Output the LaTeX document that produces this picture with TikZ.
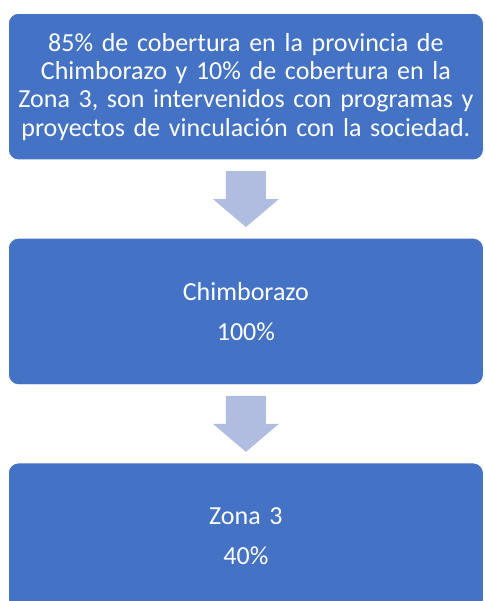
\documentclass[tikz,border=0pt]{standalone}
\usepackage{fontspec}
\setmainfont{Carlito}
\usetikzlibrary{positioning,calc}
\definecolor{boxblue}{HTML}{4472C4}
\definecolor{arrowblue}{HTML}{B0BDE0}
\tikzset{stage/.style={fill=boxblue,draw=white,line width=.8pt,rounded corners=10pt,minimum width=475pt,
 minimum height=146.5pt,text width=470pt,align=center,text=white,font=\fontsize{26}{28.3}\selectfont,inner sep=0pt},
 down/.style={fill=arrowblue}}

\begin{document}
\begin{tikzpicture}[x=1pt,y=-1pt,node distance=77.5pt]
\clip (0,0) rectangle (484,601);
\node[stage,anchor=north west] (cover) at (8,13) {85\% de cobertura en la provincia de\\Chimborazo y 10\% de cobertura en la\\Zona 3, son intervenidos con programas y\\proyectos de vinculación con la sociedad.};
\node[stage,below=of cover] (chimb) {Chimborazo\\[11.7pt]100\%};
\node[stage,below=of chimb] (zona) {Zona 3\\[11.7pt]40\%};
\coordinate (gapA) at ($(cover.south)!.5!(chimb.north)$);
\coordinate (gapB) at ($(chimb.south)!.5!(zona.north)$);
\fill[down] ($(gapA)+(-20,-28)$) -- ++(40,0) -- ++(0,28) -- ++(13,0) -- ($(gapA)+(0,28)$) -- ($(gapA)+(-33,0)$) -- ++(13,0) -- cycle;
\fill[down] ($(gapB)+(-20,-28)$) -- ++(40,0) -- ++(0,28) -- ++(13,0) -- ($(gapB)+(0,28)$) -- ($(gapB)+(-33,0)$) -- ++(13,0) -- cycle;
\end{tikzpicture}
\end{document}
